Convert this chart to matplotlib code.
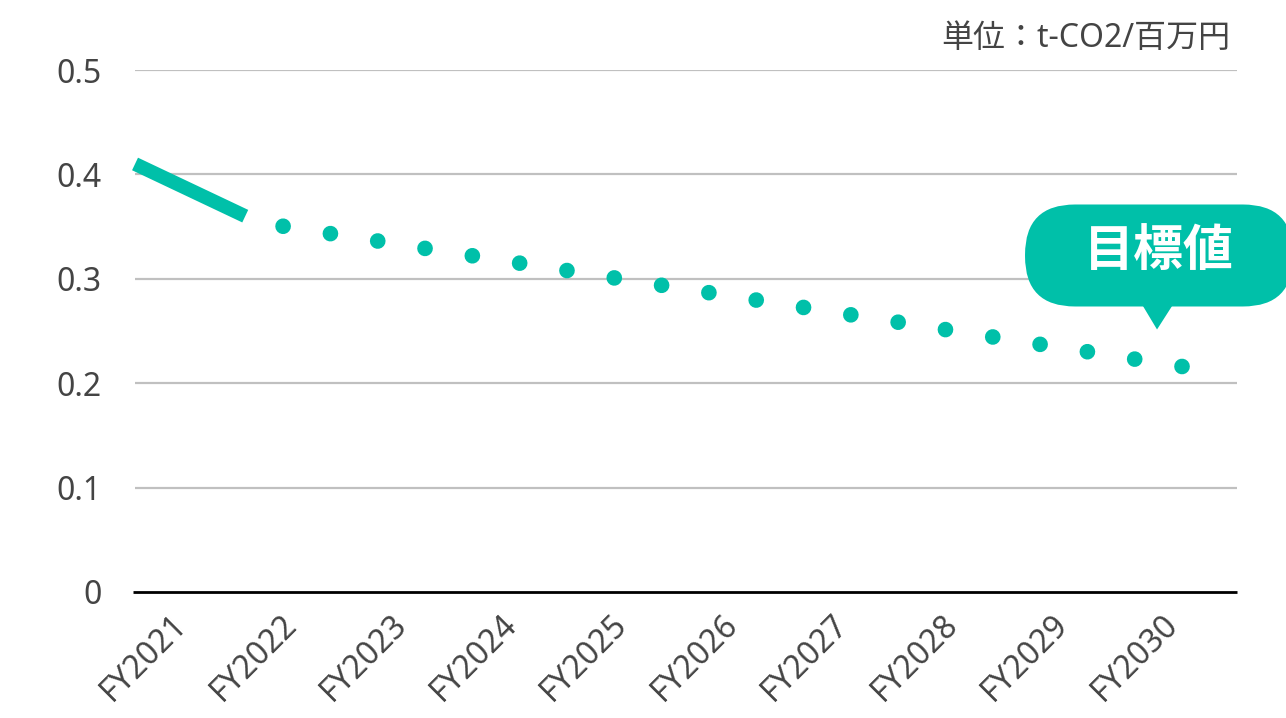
import matplotlib

matplotlib.use("Agg")
import matplotlib.pyplot as plt
from matplotlib.patches import FancyBboxPatch, Polygon
from matplotlib.transforms import IdentityTransform, ScaledTranslation

plt.rcParams["font.family"] = ["Noto Sans", "Noto Sans CJK JP", "DejaVu Sans"]

# data
years = ["FY2021", "FY2022", "FY2023", "FY2024", "FY2025",
         "FY2026", "FY2027", "FY2028", "FY2029", "FY2030"]
y_ticks = [0, 0.1, 0.2, 0.3, 0.4, 0.5]
y_tick_labels = ["0", "0.1", "0.2", "0.3", "0.4", "0.5"]
actual_values = [0.41, 0.36]      # across the FY2021 band
target_values = [0.356, 0.216]    # from end of FY2021 band to FY2030
unit_label = "単位：t-CO2/百万円"
callout_label = "目標値"

TEAL = "#00c0a9"
TEXT = "#444444"
GRID = "#c0c0c0"


def main() -> None:
    fig = plt.figure(figsize=(12.86, 7.18), dpi=100)
    ax = fig.add_axes([0.105, 0.1755, 0.857, 0.727])

    n = len(years)
    ax.set_xlim(-0.5, n - 0.5)
    ax.set_ylim(0, 0.5)

    for v in y_ticks[1:]:
        ax.axhline(v, color=GRID, linewidth=1.6, zorder=1)
    ax.plot([-0.52, n - 0.5], [0, 0], color="black", linewidth=2.0, zorder=2,
            clip_on=False, solid_capstyle="butt")

    # actual: solid segment across the first band
    ax.plot([-0.5, 0.5], actual_values, color=TEAL, linewidth=10,
            solid_capstyle="butt", zorder=3, clip_on=False)

    # target: dotted path, drawn from FY2030 backwards so a dot sits on FY2030
    ax.plot([n - 1, 0.5], target_values[::-1], color=TEAL, linewidth=11.3,
            linestyle=(0, (0.001, 3.05)), dash_capstyle="round", zorder=3)

    for s in ax.spines.values():
        s.set_visible(False)

    ax.set_yticks(y_ticks)
    ax.set_yticklabels(y_tick_labels)
    ax.set_xticks(range(n))
    ax.set_xticklabels(years, rotation=45, ha="right", va="top",
                       rotation_mode="anchor")
    ax.tick_params(axis="y", length=0, pad=24, labelsize=23, labelcolor=TEXT)
    ax.tick_params(axis="x", length=0, pad=14, labelsize=23, labelcolor=TEXT)
    shift = ScaledTranslation(-0.2, 0.03, fig.dpi_scale_trans)
    for lbl in ax.get_xticklabels():
        lbl.set_transform(lbl.get_transform() + shift)

    fig.text(0.957, 0.947, unit_label, ha="right", va="center",
             fontsize=23, color=TEXT)

    # callout bubble near the FY2030 point
    px, py = ax.transData.transform((n - 1, target_values[-1]))
    tip_x, tip_y = px - 25, py + 37
    box_h = 102
    box_w = 268
    box_cx = tip_x + 2
    box_bottom = tip_y + 23
    bubble = FancyBboxPatch(
        (box_cx - box_w / 2 + 50, box_bottom + 50),
        box_w - 100, box_h - 100,
        boxstyle="round,pad=50,rounding_size=50",
        facecolor=TEAL, edgecolor="none",
        transform=IdentityTransform(), clip_on=False, zorder=5,
    )
    fig.patches.append(bubble)
    bubble.set_figure(fig)
    pointer = Polygon(
        [(tip_x - 15, box_bottom + 2), (tip_x + 16, box_bottom + 2), (tip_x, tip_y)],
        closed=True, facecolor=TEAL, edgecolor="none",
        transform=IdentityTransform(), zorder=5,
    )
    fig.patches.append(pointer)
    pointer.set_figure(fig)
    fig.text(box_cx, box_bottom + box_h / 2 + 2, callout_label,
             transform=IdentityTransform(), ha="center", va="center",
             fontsize=36, fontweight="bold", color="white", zorder=6)

    fig.savefig("out.png", dpi=100)


if __name__ == "__main__":
    main()
